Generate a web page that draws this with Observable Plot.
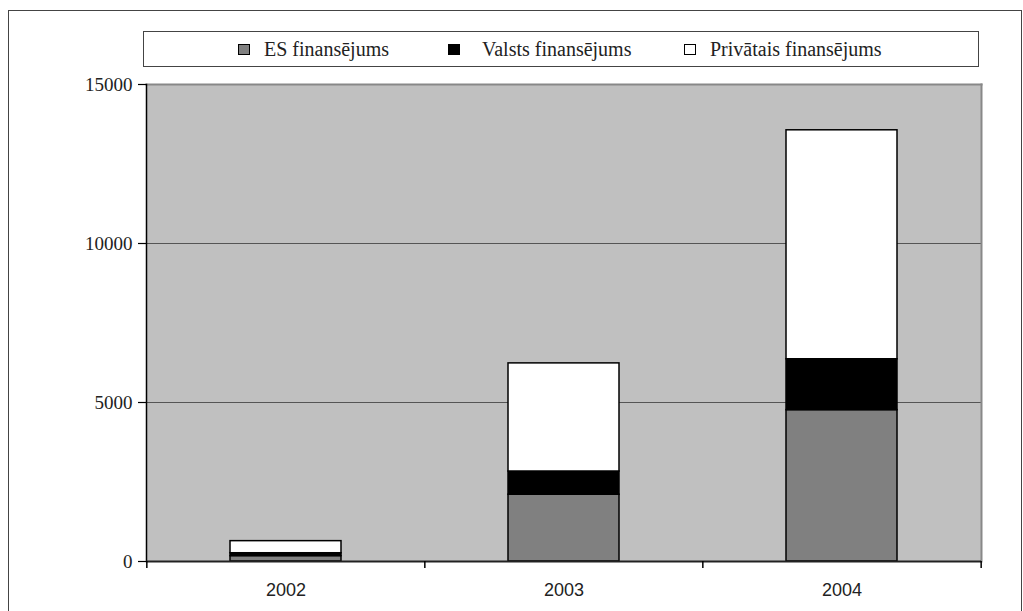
<!DOCTYPE html>
<html>
<head>
<meta charset="utf-8">
<script src="https://cdn.jsdelivr.net/npm/d3@7"></script>
<script src="https://cdn.jsdelivr.net/npm/@observablehq/plot@0.6"></script>
<style>
  html, body { margin: 0; padding: 0; background: #fff; overflow: hidden; }
  #wrap { position: relative; width: 1023px; height: 611px; }
  #outer { position: absolute; left: 8px; top: 10px; width: 1012px; height: 700px;
           border: 1.5px solid #444; border-bottom: none; }
  #legend { position: absolute; left: 143px; top: 31px; width: 834px; height: 34px;
            border: 1.5px solid #444; background: #fff; }
  .mk { position: absolute; width: 12px; height: 11px; box-sizing: border-box; border: 1.5px solid #000; }
  .lt { position: absolute; font-family: "Liberation Serif", serif; font-size: 20px; line-height: 20px;
        color: #222; white-space: nowrap; }
  #chart { position: absolute; left: 0; top: 0; }
</style>
</head>
<body>
<div id="wrap">
  <div id="outer"></div>
  <div id="chart"></div>
  <div id="legend"></div>
</div>
<script>
const years = ["2002", "2003", "2004"];
const series = ["ES finansējums", "Valsts finansējums", "Privātais finansējums"];
const esValues = [170, 2100, 4760];
const valstsValues = [90, 730, 1600];
const privateValues = [380, 3400, 7200];
const seriesColors = ["#808080", "#000000", "#ffffff"];
const yTicks = [0, 5000, 10000, 15000];

const valuesBySeries = [esValues, valstsValues, privateValues];
const table = series.flatMap((s, i) => years.map((y, j) => ({year: y, series: s, value: valuesBySeries[i][j]})));

const W = 1023, H = 611, mL = 146, mR = 42, mT = 84, mB = 50;
const step = (W - mL - mR) / years.length;

const chart = Plot.plot({
  width: W, height: H,
  marginTop: mT, marginBottom: mB, marginLeft: mL, marginRight: mR,
  style: {background: "transparent", overflow: "visible"},
  x: {domain: years, paddingInner: 0.6, paddingOuter: 0.3, label: null},
  y: {domain: [0, 15000], label: null},
  color: {domain: series, range: seriesColors},
  marks: [
    Plot.frame({fill: "#c0c0c0", stroke: null}),
    Plot.gridY(yTicks.filter(t => t > 0 && t < 15000), {stroke: "#555", strokeOpacity: 1, strokeWidth: 1}),
    Plot.frame({anchor: "top", stroke: "#888", strokeWidth: 2}),
    Plot.frame({anchor: "right", stroke: "#888", strokeWidth: 2}),
    Plot.barY(table, {x: "year", y: "value", fill: "series", stroke: "#000", strokeWidth: 1.5, order: series}),
    Plot.axisY({ticks: yTicks, tickSize: 8, tickPadding: 6, tickFormat: d => String(d),
                fontSize: 19, fontFamily: "Liberation Serif", fill: "#222", stroke: "#000", strokeWidth: 1.2, label: null}),
    Plot.frame({anchor: "left", stroke: "#000", strokeWidth: 1.5}),
    Plot.ruleY([0], {stroke: "#222", strokeWidth: 2}),
    Plot.axisX({tickSize: 0, tickPadding: 22, fontSize: 18, fontFamily: "Liberation Sans", fill: "#222", label: null}),
    Plot.ruleX(years, {x: d => d, y1: 0, y2: -220, dx: -step / 2, stroke: "#000", strokeWidth: 1.5}),
    Plot.ruleX(years.slice(-1), {x: d => d, y1: 0, y2: -220, dx: step / 2, stroke: "#000", strokeWidth: 1.5})
  ]
});
document.getElementById("chart").appendChild(chart);

// legend
const legend = document.getElementById("legend");
const markerX = [237, 447, 683];
const textX = [263, 481, 709];
series.forEach((s, i) => {
  const m = document.createElement("div");
  m.className = "mk";
  m.style.left = (markerX[i] - 143) + "px";
  m.style.top = (43 - 31) + "px";
  m.style.background = seriesColors[i];
  legend.appendChild(m);
  const t = document.createElement("div");
  t.className = "lt";
  t.textContent = s;
  t.style.left = (textX[i] - 143) + "px";
  t.style.top = (38 - 31) + "px";
  legend.appendChild(t);
});
</script>
</body>
</html>
